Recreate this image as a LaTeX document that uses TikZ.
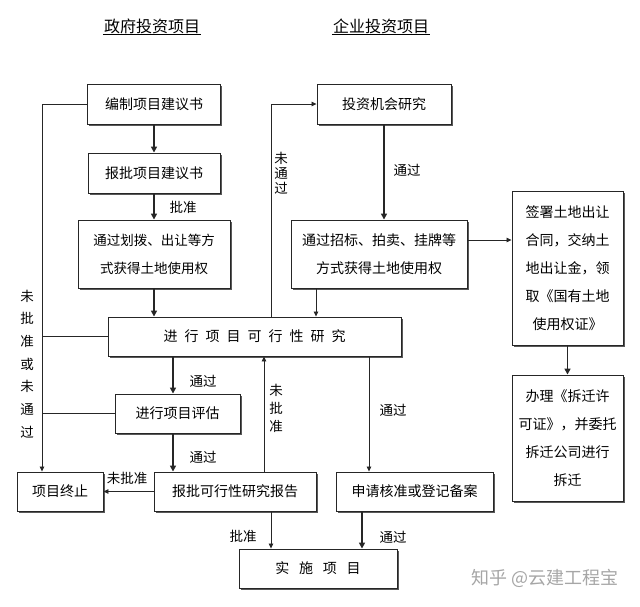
\documentclass[tikz,border=0pt]{standalone}
\usepackage{fontspec}
\setmainfont{Noto Sans CJK SC}
\usetikzlibrary{arrows.meta,shadows}

\begin{document}
\begin{tikzpicture}[x=1pt,y=-1pt,
    stage/.style={draw=black!85, line width=0.9pt, fill=white, align=center,
      inner sep=0pt, font=\fontsize{14}{28}\selectfont,
      drop shadow={shadow xshift=1.6pt, shadow yshift=-1.6pt, fill=black!65, opacity=1}},
    flow/.style={-{Triangle[length=5pt,width=4.5pt]}, line width=0.8pt, draw=black!85},
    mainflow/.style={flow, line width=1.8pt, -{Triangle[length=6pt,width=6pt]}},
    link/.style={line width=0.8pt, draw=black!85},
    note/.style={font=\fontsize{13.5}{15}\selectfont, inner sep=0pt},
    heading/.style={font=\fontsize{16}{18}\selectfont, inner sep=1pt}]
   \useasboundingbox (0,0) rectangle (640,606);
   % titles
   \node[heading] (govtitle) at (152,26) {政府投资项目};
   \node[heading] (enttitle) at (381,26) {企业投资项目};
   \draw[line width=0.8pt] (govtitle.south west) -- (govtitle.south east);
   \draw[line width=0.8pt] (enttitle.south west) -- (enttitle.south east);
   % government branch
   \node[stage, minimum width=133pt, minimum height=40pt] (propose) at (154,104.5) {编制项目建议书};
   \node[stage, minimum width=132pt, minimum height=40pt] (submit) at (154,173) {报批项目建议书};
   \node[stage, minimum width=152pt, minimum height=68pt, font=\fontsize{13.5}{28}\selectfont] (allot) at (154,254)
     {通过划拨、出让等方\\式获得土地使用权};
   % enterprise branch
   \node[stage, minimum width=134pt, minimum height=40pt] (chance) at (384,104) {投资机会研究};
   \node[stage, minimum width=176pt, minimum height=68pt] (auction) at (379,254)
     {通过招标、拍卖、挂牌等\\方式获得土地使用权};
   \node[stage, minimum width=111pt, minimum height=154pt] (contract) at (567.5,268)
     {签署土地出让\\合同，交纳土\\地出让金，领\\取《国有土地\\使用权证》};
   \node[stage, minimum width=111pt, minimum height=126pt] (demolish) at (567.5,438)
     {办理《拆迁许\\可证》，并委托\\拆迁公司进行\\拆迁};
   % common part
   \node[stage, minimum width=293pt, minimum height=39pt] (study) at (254.5,336.5)
     {进\hspace{0.5em}行\hspace{0.5em}项\hspace{0.5em}目\hspace{0.5em}可\hspace{0.5em}行\hspace{0.5em}性\hspace{0.5em}研\hspace{0.5em}究};
   \node[stage, minimum width=125pt, minimum height=39pt] (assess) at (177.5,413.5) {进行项目评估};
   \node[stage, minimum width=86pt, minimum height=39pt] (stop) at (60,491.5) {项目终止};
   \node[stage, minimum width=162pt, minimum height=39pt] (report) at (235,491.5) {报批可行性研究报告};
   \node[stage, minimum width=157pt, minimum height=39pt] (record) at (414.5,491.5) {申请核准或登记备案};
   \node[stage, minimum width=158pt, minimum height=39pt] (build) at (318,568.5)
     {实\hspace{0.7em}施\hspace{0.7em}项\hspace{0.7em}目};
   % connectors
   \draw[mainflow] (propose) -- (submit);
   \draw[mainflow] (submit) -- (allot);
   \draw[mainflow] (allot.south) -- (allot.south |- study.north);
   \draw[mainflow] (chance.south) -- (chance.south |- auction.north);
   \draw[flow] ([xshift=-63pt]auction.south) -- ([xshift=-63pt]auction.south |- study.north);
   \draw[flow] ([yshift=14pt]auction.east) -- ([yshift=14pt]auction.east -| contract.west);
   \draw[mainflow] (contract) -- (demolish);
   \draw[flow] ([xshift=17pt]study.north) |- (chance.west);
   \draw[flow] (propose.west) -| ([xshift=-18pt]stop.north);
   \draw[link] (study.west) -- ([xshift=-18pt]stop.north |- study.west);
   \draw[link] (assess.west) -- ([xshift=-18pt]stop.north |- assess.west);
   \draw[mainflow] ([xshift=-4.5pt]assess.north |- study.south) -- ([xshift=-4.5pt]assess.north);
   \draw[mainflow] ([xshift=-4.5pt]assess.south) -- ([xshift=-4.5pt]assess.south |- report.north);
   \draw[flow] (report) -- (stop);
   \draw[flow] ([xshift=29pt]report.north) -- ([xshift=29pt]report.north |- study.south);
   \draw[flow] ([xshift=36pt]report.south) -- ([xshift=36pt]report.south |- build.north);
   \draw[flow] ([xshift=114.5pt]study.south) -- ([xshift=114.5pt]study.south |- record.north);
   \draw[mainflow] ([xshift=-52.5pt]record.south) -- ([xshift=-52.5pt]record.south |- build.north);
   % labels
   \node[note] (lbl1) at (183,207) {批准};
   \node[note] (lbl2) at (407,170) {通过};
   \node[note] (lbl3) at (203,381) {通过};
   \node[note] (lbl4) at (203,457) {通过};
   \node[note] (lbl5) at (127,478) {未批准};
   \node[note] (lbl6) at (243,536) {批准};
   \node[note] (lbl7) at (393,410) {通过};
   \node[note] (lbl8) at (393,537) {通过};
   \node[note, align=center] (lbl9) at (281,173) {未\\通\\过};
   \node[note, align=center, font=\fontsize{13.5}{18}\selectfont] (lbl10) at (276,408) {未\\批\\准};
   \node[note, align=center, font=\fontsize{13.5}{22.7}\selectfont] (lbl11) at (27,364) {未\\批\\准\\或\\未\\通\\过};
   % watermark
   \node[font=\fontsize{18}{20}\selectfont, text=black!35, inner sep=0pt] (mark) at (545,578) {知乎 @云建工程宝};
\end{tikzpicture}
\end{document}
